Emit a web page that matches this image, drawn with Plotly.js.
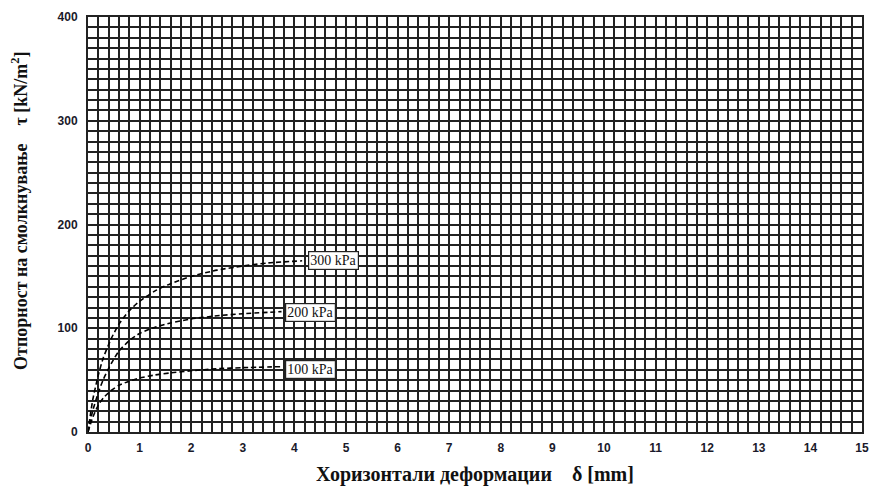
<!DOCTYPE html>
<html>
<head>
<meta charset="utf-8">
<script src="https://cdn.plot.ly/plotly-3.0.1.min.js"></script>
<style>html,body{margin:0;padding:0;background:#fff;}#chart{width:874px;height:493px;}</style>
</head>
<body>
<div id="chart"></div>
<script>
// Data
const x300 = [0, 0.05, 0.1, 0.2, 0.3, 0.45, 0.6, 0.8, 1.0, 1.3, 1.6, 2.0, 2.5, 3.0, 3.5, 4.15];
const y300 = [0, 18, 33, 55, 72, 90, 104, 117, 126, 136, 143, 150, 156, 160, 163, 165];
const x200 = [0, 0.05, 0.1, 0.2, 0.3, 0.45, 0.6, 0.8, 1.0, 1.3, 1.6, 2.0, 2.5, 3.0, 3.75];
const y200 = [0, 12, 22, 38, 51, 66, 78, 88, 95, 101, 105, 109, 112, 114, 116];
const x100 = [0, 0.05, 0.1, 0.2, 0.3, 0.45, 0.6, 0.8, 1.0, 1.3, 1.6, 2.0, 2.5, 3.0, 3.75];
const y100 = [0, 8, 15, 26, 33, 40, 45, 49, 52, 55, 57, 59, 61, 62, 63];
const seriesLabels = ['300 kPa', '200 kPa', '100 kPa'];
const labelX = [4.75, 4.32, 4.32];
const labelY = [165, 115, 60];
const xTicks = [0,1,2,3,4,5,6,7,8,9,10,11,12,13,14,15];
const yTicks = [0,100,200,300,400];
const xTitle = 'Хоризонтали деформации&nbsp;&nbsp;&nbsp;&nbsp;δ [mm]';
const yTitle = 'Отпорност на смолкнување&nbsp;&nbsp;&nbsp;&nbsp;τ [kN/m<sup>2</sup>]';

const lineStyle = {color:'#000', width:1.6, dash:'5px,3px', shape:'spline', smoothing:0.6};
const traces = [
  {x:x300, y:y300, mode:'lines', line:lineStyle, name:seriesLabels[0], hoverinfo:'skip'},
  {x:x200, y:y200, mode:'lines', line:lineStyle, name:seriesLabels[1], hoverinfo:'skip'},
  {x:x100, y:y100, mode:'lines', line:lineStyle, name:seriesLabels[2], hoverinfo:'skip'}
];

const gridCol = '#222';
const tickFont = {family:'Liberation Sans, Arial, sans-serif', size:12, color:'#1a1a2a', weight:'bold'};
const titleFont = {family:'Liberation Serif, Times New Roman, serif', size:20, color:'#111', weight:'bold'};

const annotations = seriesLabels.map((t,i)=>({
  x:labelX[i], y:labelY[i], xref:'x', yref:'y', text:t, showarrow:false,
  font:{family:'Liberation Serif, Times New Roman, serif', size:14, color:'#111'},
  bgcolor:'#fff', bordercolor:'#222', borderwidth:1.2, borderpad:1
}));
annotations.push({
  x:-0.0879, y:0.535, xref:'paper', yref:'paper', text:yTitle, showarrow:false,
  textangle:-90, xanchor:'center', yanchor:'middle',
  font:{family:'Liberation Serif, Times New Roman, serif', size:18, color:'#111', weight:'bold'}
});

const layout = {
  width:874, height:493,
  margin:{l:88, r:12, t:17, b:61},
  paper_bgcolor:'#fff', plot_bgcolor:'#fff',
  showlegend:false,
  xaxis:{
    range:[0,15], tickvals:xTicks, ticktext:xTicks.map(String),
    showgrid:true, gridcolor:gridCol, gridwidth:2,
    minor:{dtick:0.2, showgrid:true, gridcolor:gridCol, gridwidth:2},
    showline:true, linecolor:'#222', linewidth:2, mirror:true,
    zeroline:false, ticks:'', tickfont:tickFont, ticklabelstandoff:4,
    title:{text:xTitle, font:titleFont, standoff:13}
  },
  yaxis:{
    range:[0,400], tickvals:yTicks, ticktext:yTicks.map(String),
    showgrid:true, gridcolor:gridCol, gridwidth:2,
    minor:{dtick:10, showgrid:true, gridcolor:gridCol, gridwidth:2},
    showline:true, linecolor:'#222', linewidth:2, mirror:true,
    zeroline:false, ticks:'', tickfont:tickFont, ticklabelstandoff:6
  },
  annotations:annotations
};

Plotly.newPlot('chart', traces, layout, {staticPlot:true, displayModeBar:false});
</script>
</body>
</html>
